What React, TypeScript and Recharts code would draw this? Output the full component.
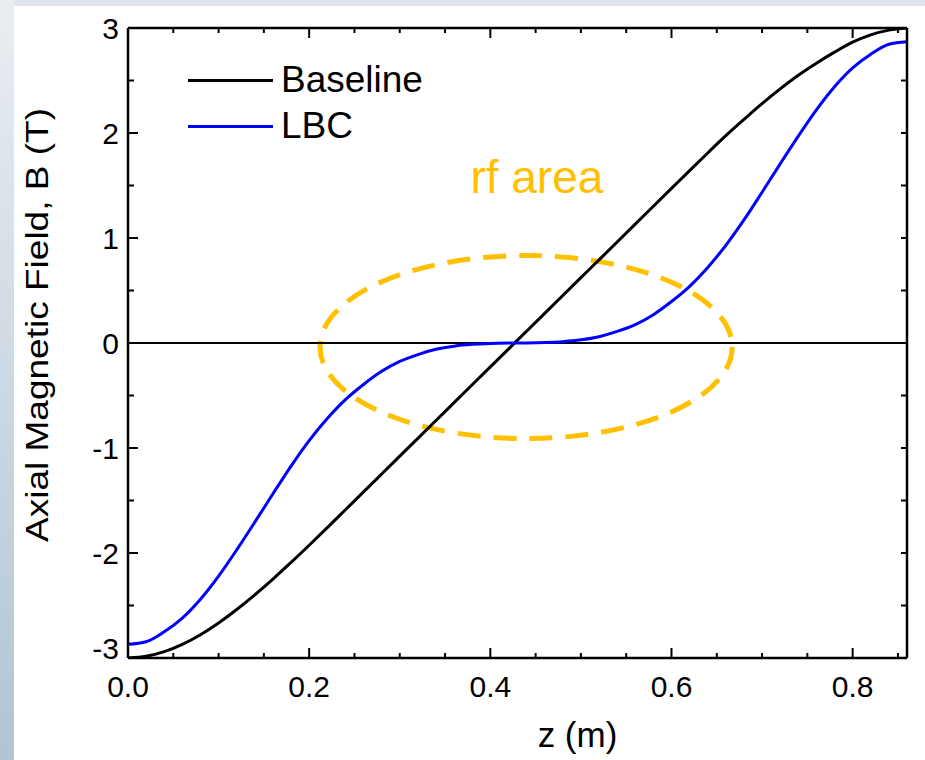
import React from "react";
import {
  LineChart,
  Line,
  XAxis,
  YAxis,
  ReferenceLine,
  ReferenceArea,
  ReferenceDot,
  Legend,
  Label,
} from "recharts";

// z positions (m)
const zValues = [
  0, 0.02, 0.04, 0.06, 0.08, 0.1, 0.12, 0.14, 0.16, 0.18, 0.2, 0.22, 0.24, 0.26,
  0.28, 0.3, 0.32, 0.34, 0.36, 0.38, 0.4, 0.42, 0.44, 0.46, 0.48, 0.5, 0.52, 0.54,
  0.56, 0.58, 0.6, 0.62, 0.64, 0.66, 0.68, 0.7, 0.72, 0.74, 0.76, 0.78, 0.8, 0.82,
  0.84, 0.86,
];

// axial field, baseline design (T)
const baselineField = [
  -3.0, -2.984, -2.94, -2.87, -2.778, -2.666, -2.538, -2.398, -2.248, -2.09, -1.926,
  -1.758, -1.588, -1.418, -1.248, -1.078, -0.908, -0.738, -0.568, -0.398, -0.228,
  -0.058, 0.112, 0.282, 0.452, 0.622, 0.792, 0.962, 1.132, 1.302, 1.472, 1.642,
  1.81, 1.975, 2.13, 2.28, 2.42, 2.55, 2.665, 2.77, 2.865, 2.935, 2.98, 3.0,
];

// axial field, LBC design (T)
const lbcField = [
  -2.87, -2.845, -2.75, -2.62, -2.44, -2.22, -1.97, -1.706, -1.436, -1.172, -0.93,
  -0.72, -0.54, -0.395, -0.27, -0.175, -0.11, -0.06, -0.03, -0.013, -0.004, -0.0005,
  0.0005, 0.004, 0.013, 0.03, 0.06, 0.11, 0.175, 0.27, 0.395, 0.54, 0.72, 0.93,
  1.172, 1.436, 1.706, 1.97, 2.22, 2.44, 2.62, 2.75, 2.845, 2.87,
];

const xTicks = [
  0, 0.05, 0.1, 0.15, 0.2, 0.25, 0.3, 0.35, 0.4, 0.45, 0.5, 0.55, 0.6, 0.65, 0.7,
  0.75, 0.8, 0.85,
];
const yTicks = [-3, -2.5, -2, -1.5, -1, -0.5, 0, 0.5, 1, 1.5, 2, 2.5, 3];

// dashed "rf area" ellipse bounds, in data units
const rfZ = [0.212, 0.667];
const rfB = [-0.91, 0.833];
const rfLabelAt = { z: 0.378, b: 1.43 };

const rows = zValues.map((z, i) => ({
  z,
  baseline: baselineField[i],
  lbc: lbcField[i],
}));

const FONT = "'Liberation Sans', Arial, Helvetica, sans-serif";
const GOLD = "#FFC000";

// chart geometry
const W = 925;
const H = 760;
const MARGIN = { top: 27, right: 17, left: 0, bottom: 0 };
const YAXIS_W = 128;
const XAXIS_H = 102;
const TOP_H = 1; // mirror axes need a non-zero size or recharts skips them
const RIGHT_W = 1;
const plotLeft = MARGIN.left + YAXIS_W;
const plotRight = W - MARGIN.right - RIGHT_W;
const plotTop = MARGIN.top + TOP_H;
const plotBottom = H - MARGIN.bottom - XAXIS_H;

const isMajor = (v: number, step: number) =>
  Math.abs(v / step - Math.round(v / step)) < 1e-6;

function BottomTick(p: any) {
  const v = p.payload.value;
  const x = p.x;
  const major = isMajor(v, 0.2);
  return (
    <g>
      <line x1={x} y1={plotBottom} x2={x} y2={plotBottom - (major ? 10 : 5)} stroke="#000" strokeWidth={2} />
      {major && (
        <text x={x} y={plotBottom + 39} textAnchor="middle" fontSize={30} fontFamily={FONT} fill="#000">
          {v.toFixed(1)}
        </text>
      )}
    </g>
  );
}

function TopTick(p: any) {
  const major = isMajor(p.payload.value, 0.2);
  return (
    <line x1={p.x} y1={plotTop} x2={p.x} y2={plotTop + (major ? 10 : 5)} stroke="#000" strokeWidth={2} />
  );
}

function LeftTick(p: any) {
  const v = p.payload.value;
  const y = p.y;
  const major = isMajor(v, 1);
  return (
    <g>
      <line x1={plotLeft} y1={y} x2={plotLeft + (major ? 10 : 6)} y2={y} stroke="#000" strokeWidth={2} />
      {major && (
        <text
          x={plotLeft - 9}
          y={y + (v === -3 ? -10 : 0)}
          dy="0.35em"
          textAnchor="end"
          fontSize={30}
          fontFamily={FONT}
          fill="#000"
        >
          {String(v)}
        </text>
      )}
    </g>
  );
}

function RightTick(p: any) {
  return <line x1={plotRight} y1={p.y} x2={plotRight - 6} y2={p.y} stroke="#000" strokeWidth={2} />;
}

function LegendBox(props: any) {
  const items = props.payload || [];
  return (
    <div style={{ fontFamily: FONT, fontSize: 37, color: "#000" }}>
      {items.map((it: any) => (
        <div key={it.value} style={{ display: "flex", alignItems: "center", height: 46, lineHeight: "46px" }}>
          <div style={{ width: 85, height: 3, background: it.color, marginRight: 8 }} />
          <span>{it.value}</span>
        </div>
      ))}
    </div>
  );
}

const ellipseShape = (p: any) => (
  <ellipse
    cx={p.x + p.width / 2}
    cy={p.y + p.height / 2}
    rx={p.width / 2}
    ry={p.height / 2}
    fill="none"
    stroke={GOLD}
    strokeWidth={5}
    strokeDasharray="23 13"
  />
);

const rfText = (p: any) => (
  <text x={p.viewBox.x} y={p.viewBox.y} fontSize={46} fontFamily={FONT} fill={GOLD}>
    rf area
  </text>
);

const axisLine = { stroke: "#000", strokeWidth: 2.5 };

export default function App() {
  return (
    <div style={{ position: "absolute", left: 0, top: 0, width: W, height: H, background: "#fff" }}>
      <div style={{ position: "absolute", left: 0, top: 0, width: W, height: 6, background: "#dfe5ec" }} />
      <div
        style={{
          position: "absolute",
          left: 0,
          top: 0,
          width: 14,
          height: H,
          background: "linear-gradient(#e9eef2, #b1c4d3)",
        }}
      />
      <div style={{ position: "absolute", left: 0, top: 0 }}>
        <LineChart width={W} height={H} data={rows} margin={MARGIN}>
          <XAxis
            dataKey="z"
            type="number"
            domain={[0, 0.86]}
            ticks={xTicks}
            interval={0}
            allowDataOverflow
            height={XAXIS_H}
            tickLine={false}
            axisLine={axisLine}
            tick={<BottomTick />}
          >
            <Label
              content={(p: any) => (
                <text
                  x={p.viewBox.x + p.viewBox.width / 2 + 60}
                  y={plotBottom + 89}
                  textAnchor="middle"
                  fontSize={35}
                  fontFamily={FONT}
                  fill="#000"
                >
                  z (m)
                </text>
              )}
            />
          </XAxis>
          <XAxis
            xAxisId="top"
            orientation="top"
            dataKey="z"
            type="number"
            domain={[0, 0.86]}
            ticks={xTicks}
            interval={0}
            allowDataOverflow
            height={TOP_H}
            tickLine={false}
            axisLine={axisLine}
            tick={<TopTick />}
          />
          <YAxis
            type="number"
            domain={[-3, 3]}
            ticks={yTicks}
            interval={0}
            allowDataOverflow
            width={YAXIS_W}
            tickLine={false}
            axisLine={axisLine}
            tick={<LeftTick />}
          >
            <Label
              content={(p: any) => {
                const x = 48;
                const y = p.viewBox.y + p.viewBox.height / 2 - 18;
                return (
                  <text
                    x={x}
                    y={y}
                    transform={`rotate(-90 ${x} ${y})`}
                    textAnchor="middle"
                    fontSize={32}
                    textLength={434}
                    lengthAdjust="spacingAndGlyphs"
                    fontFamily={FONT}
                    fill="#000"
                  >
                    Axial Magnetic Field, B (T)
                  </text>
                );
              }}
            />
          </YAxis>
          <YAxis
            yAxisId="right"
            orientation="right"
            type="number"
            domain={[-3, 3]}
            ticks={yTicks}
            interval={0}
            allowDataOverflow
            width={RIGHT_W}
            tickLine={false}
            axisLine={axisLine}
            tick={<RightTick />}
          />
          <ReferenceLine y={0} stroke="#000" strokeWidth={2} />
          <Line
            type="monotone"
            dataKey="baseline"
            name="Baseline"
            stroke="#000000"
            strokeWidth={3}
            dot={false}
            isAnimationActive={false}
          />
          <Line
            type="monotone"
            dataKey="lbc"
            name="LBC"
            stroke="#0000ff"
            strokeWidth={3}
            dot={false}
            isAnimationActive={false}
          />
          <ReferenceArea x1={rfZ[0]} x2={rfZ[1]} y1={rfB[0]} y2={rfB[1]} shape={ellipseShape} />
          <ReferenceDot x={rfLabelAt.z} y={rfLabelAt.b} r={0} fill="none" stroke="none" label={rfText} />
          <Legend
            layout="vertical"
            align="center"
            verticalAlign="middle"
            content={<LegendBox />}
            wrapperStyle={{ left: 188, top: 57, width: 320 }}
          />
        </LineChart>
      </div>
    </div>
  );
}
